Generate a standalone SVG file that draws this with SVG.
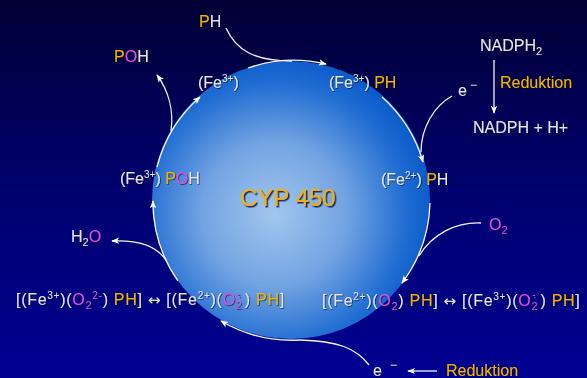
<svg xmlns="http://www.w3.org/2000/svg" width="587" height="378" viewBox="0 0 587 378">
<defs>
<linearGradient id="bg" x1="0" y1="0" x2="0" y2="1">
<stop offset="0" stop-color="#000034"/>
<stop offset="0.5" stop-color="#00006e"/>
<stop offset="1" stop-color="#000092"/>
</linearGradient>
<radialGradient id="ball" cx="0.44" cy="0.55" r="0.58" fx="0.44" fy="0.55">
<stop offset="0" stop-color="#a2c6ee"/>
<stop offset="0.45" stop-color="#72a3e2"/>
<stop offset="0.82" stop-color="#1f6cd2"/>
<stop offset="1" stop-color="#0858c8"/>
</radialGradient>
<marker id="ah" markerWidth="8" markerHeight="8" viewBox="0 0 10 10" refX="9" refY="5" orient="auto" markerUnits="userSpaceOnUse">
<path d="M0,1 L10,5 L0,9 L2.5,5 z" fill="#ffffff"/>
</marker>
<filter id="sh" x="-10%" y="-20%" width="130%" height="150%">
<feDropShadow dx="0.8" dy="0.8" stdDeviation="0.4" flood-color="#000000" flood-opacity="0.7"/>
</filter>
<filter id="sh2" x="-10%" y="-20%" width="130%" height="150%">
<feDropShadow dx="1.5" dy="1.5" stdDeviation="0.3" flood-color="#10104a" flood-opacity="0.9"/>
</filter>
</defs>
<style>
text{font-family:"Liberation Sans",Arial,sans-serif;font-size:16px;fill:#e4e4ec;filter:url(#sh)}
.g{fill:#f2b400}
.m{fill:#e24ee2}
.s{font-size:10px}
.b{font-size:11px}
.ar{font-family:"DejaVu Sans",sans-serif;font-size:15px}
.cn{fill:none;stroke:#f4f4f8;stroke-width:1.3}
</style>
<rect x="0" y="0" width="587" height="378" fill="url(#bg)"/>

<g id="cyp450">
<circle cx="291" cy="200" r="139" fill="url(#ball)"/>
<text x="240" y="206" class="g" style="font-size:24px;filter:url(#sh2)">CYP 450</text>
</g>

<g id="connectors">
<path class="cn" d="M248,68 A140,140 0 0 1 326,64" marker-end="url(#ah)"/>
<path class="cn" d="M226,28 C236,50 254,61 292,61"/>
<path class="cn" d="M382,97 A139,139 0 0 1 423,162" marker-end="url(#ah)"/>
<path class="cn" d="M452,96 C434,106 421,128 421,152"/>
<path class="cn" d="M430,203 A139,139 0 0 1 402,283" marker-end="url(#ah)"/>
<path class="cn" d="M481,223 C456,222 432,234 419,256"/>
<path class="cn" d="M300,340 A140,140 0 0 1 221,321" marker-end="url(#ah)"/>
<path class="cn" d="M369,365 C356,348 338,341 300,340"/>
<path class="cn" d="M178,281 A139,139 0 0 1 153,201" marker-end="url(#ah)"/>
<path class="cn" d="M166,260 C156,246 140,240 112,241" marker-end="url(#ah)"/>
<path class="cn" d="M157,167 A139,139 0 0 1 200,97" marker-end="url(#ah)"/>
<path class="cn" d="M171,131 C174,110 168,90 157,75" marker-end="url(#ah)"/>
<path class="cn" d="M494,60 L494,113" marker-end="url(#ah)"/>
<path class="cn" d="M437,371 L408,371" marker-end="url(#ah)"/>
</g>

<g id="ph-in"><text x="199" y="27"><tspan class="g">P</tspan>H</text></g>
<g id="poh-out"><text x="114" y="62"><tspan class="g">P</tspan><tspan class="m">O</tspan>H</text></g>
<g id="fe3"><text x="198" y="88">(Fe<tspan class="s" dy="-6">3+</tspan><tspan dy="6">)</tspan></text></g>
<g id="fe3-ph"><text x="329" y="88">(Fe<tspan class="s" dy="-6">3+</tspan><tspan dy="6">) </tspan><tspan class="g">PH</tspan></text></g>
<g id="e-top"><text x="458" y="96">e<tspan style="font-size:12px" dx="3" dy="-7">−</tspan></text></g>
<g id="nadph">
<text x="480" y="51">NADPH<tspan class="b" dy="4">2</tspan></text>
<text x="500" y="88" class="g">Reduktion</text>
<text x="473" y="133">NADPH + H+</text>
</g>
<g id="fe2-ph"><text x="381" y="185">(Fe<tspan class="s" dy="-6">2+</tspan><tspan dy="6">) </tspan><tspan class="g">P</tspan>H</text></g>
<g id="fe3-poh"><text x="120" y="184">(Fe<tspan class="s" dy="-6">3+</tspan><tspan dy="6">) </tspan><tspan class="g">P</tspan><tspan class="m">O</tspan>H</text></g>
<g id="o2-in"><text x="489" y="230" class="m">O<tspan class="b" dy="4">2</tspan></text></g>
<g id="h2o-out"><text x="71" y="242">H<tspan class="b" dy="4">2</tspan><tspan class="m" dy="-4">O</tspan></text></g>

<g id="complex-left">
<text x="16" y="305" style="letter-spacing:0.72px">[(Fe<tspan class="s" dy="-6">3+</tspan><tspan dy="6">)(</tspan><tspan class="m">O</tspan><tspan class="m b" dy="4">2</tspan><tspan class="m s" dy="-10">2-</tspan><tspan dy="6">) </tspan><tspan class="g">PH</tspan>] <tspan class="ar">↔</tspan> [(Fe<tspan class="s" dy="-6">2+</tspan><tspan dy="6">)(</tspan><tspan class="m">O</tspan><tspan class="m b" dy="4">2</tspan><tspan class="m s" dx="-6" dy="-12">-</tspan><tspan class="m s" dx="-3" dy="3">·</tspan><tspan dx="3" dy="5">) </tspan><tspan class="g">PH</tspan>]</text>
</g>
<g id="complex-right">
<text x="322" y="306" style="letter-spacing:0.72px">[(Fe<tspan class="s" dy="-6">2+</tspan><tspan dy="6">)(</tspan><tspan class="m">O</tspan><tspan class="m b" dy="4">2</tspan><tspan dy="-4">) </tspan><tspan class="g">PH</tspan>] <tspan class="ar">↔</tspan> [(Fe<tspan class="s" dy="-6">3+</tspan><tspan dy="6">)(</tspan><tspan class="m">O</tspan><tspan class="m b" dy="4">2</tspan><tspan class="m s" dx="-6" dy="-12">-</tspan><tspan class="m s" dx="-3" dy="3">·</tspan><tspan dx="3" dy="5">) </tspan><tspan class="g">PH</tspan>]</text>
</g>

<g id="e-bottom">
<text x="373" y="376">e<tspan style="font-size:12px" dx="8" dy="-7">−</tspan></text>
<text x="446" y="376" class="g">Reduktion</text>
</g>
</svg>
